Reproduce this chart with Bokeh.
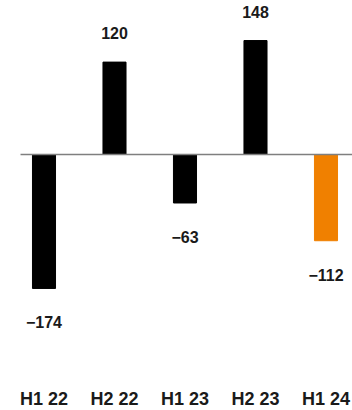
from bokeh.plotting import figure
from bokeh.models import ColumnDataSource, Range1d
from bokeh.core.properties import value
from bokeh.embed import file_html
from bokeh.resources import INLINE

categories = ["H1 22", "H2 22", "H1 23", "H2 23", "H1 24"]
values = [-174, 120, -63, 148, -112]
colors = ["#000000", "#000000", "#000000", "#000000", "#F08000"]
labels = ["\u2212174", "120", "\u221263", "148", "\u2212112"]

xs = list(range(len(categories)))
src = ColumnDataSource(dict(
    x=xs, top=values, color=colors, label=labels,
    yoff=[-29 if v >= 0 else 34 for v in values],
))

p = figure(width=352, height=410, output_backend="svg", toolbar_location=None,
           x_range=Range1d(-0.617, 4.376), y_range=Range1d(-332.5, 200),
           min_border=0, outline_line_color=None)
p.xaxis.visible = False
p.yaxis.visible = False
p.grid.visible = False
p.background_fill_color = None
p.border_fill_color = None

p.vbar(x="x", top="top", bottom=0, width=0.327, color="color", source=src)
p.segment(x0=[-0.333], y0=[0], x1=[4.376], y1=[0], line_color="#7f7f7f", line_width=1.5)

font = value("Liberation Sans")
p.text(x="x", y="top", text="label", y_offset="yoff", source=src,
       text_align="center", text_baseline="middle", text_font=font,
       text_font_size="16px", text_font_style="bold", text_color="#1a1a1a")

cat_src = ColumnDataSource(dict(x=xs, y=[-318] * len(xs), t=categories))
p.text(x="x", y="y", text="t", source=cat_src, text_align="center",
       text_baseline="middle", text_font=font, text_font_size="18px",
       text_font_style="bold", text_color="#1a1a1a")

open("out.html", "w").write(file_html(p, INLINE))
